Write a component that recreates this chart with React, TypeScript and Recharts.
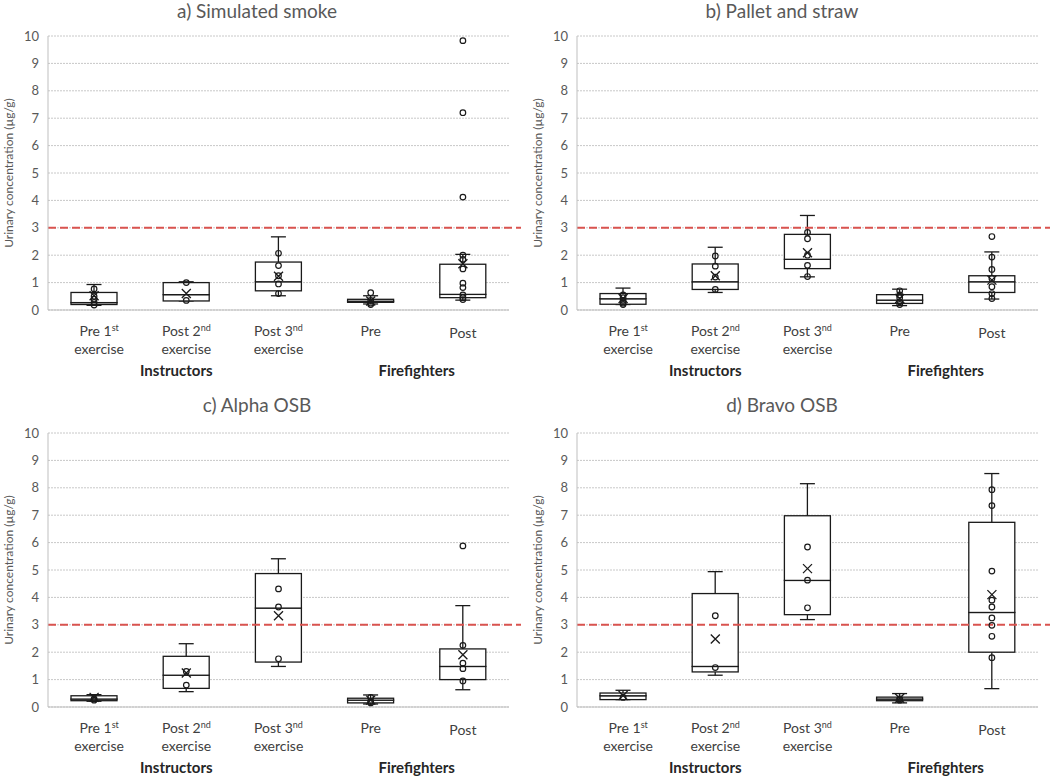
import React from 'react';
import {
  ComposedChart,
  Bar,
  Line,
  XAxis,
  YAxis,
  CartesianGrid,
  ReferenceLine
} from 'recharts';

// categories and tick label parts (the original reads "Post 3nd")
const categories = ['Pre 1st', 'Post 2nd', 'Post 3nd', 'Pre', 'Post'];
const tickMain = ['Pre 1', 'Post 2', 'Post 3', 'Pre', 'Post'];
const tickSup = ['st', 'nd', 'nd', '', ''];
const tickSecond = ['exercise', 'exercise', 'exercise', '', ''];
const groupLabels = ['Instructors', 'Firefighters'];
const yTicks = [0, 1, 2, 3, 4, 5, 6, 7, 8, 9, 10];
const limitValue = 3;

// a) Simulated smoke
const smokeMin = [0.17, 0.33, 0.52, 0.22, 0.36];
const smokeQ1 = [0.2, 0.33, 0.7, 0.28, 0.45];
const smokeMedian = [0.27, 0.56, 1.03, 0.32, 0.57];
const smokeQ3 = [0.64, 1.0, 1.75, 0.39, 1.67];
const smokeMax = [0.93, 1.03, 2.67, 0.52, 2.03];
const smokeMean = [0.52, 0.6, 1.23, 0.33, 1.69];
const smokePoints = [
  [0.77, 0.5, 0.4, 0.28, 0.18],
  [1.0, 0.35],
  [2.07, 1.62, 1.25, 0.95, 0.6],
  [0.63, 0.35, 0.25, 0.2],
  [9.83, 7.2, 4.12, 2.0, 1.85, 1.5, 0.98, 0.82, 0.55, 0.45, 0.38]
];

// b) Pallet and straw
const palletMin = [0.2, 0.64, 1.21, 0.16, 0.4];
const palletQ1 = [0.21, 0.75, 1.51, 0.24, 0.64];
const palletMedian = [0.41, 1.03, 1.85, 0.36, 1.03];
const palletQ3 = [0.6, 1.68, 2.76, 0.56, 1.25];
const palletMax = [0.8, 2.29, 3.45, 0.76, 2.12];
const palletMean = [0.42, 1.25, 2.09, 0.42, 1.09];
const palletPoints = [
  [0.55, 0.45, 0.35, 0.25, 0.2],
  [1.97, 1.6, 1.2, 0.75],
  [2.83, 2.6, 2.0, 1.63, 1.22],
  [0.7, 0.55, 0.45, 0.3, 0.2],
  [2.68, 1.93, 1.48, 1.15, 0.85, 0.6, 0.42]
];

// c) Alpha OSB
const alphaMin = [0.21, 0.56, 1.48, 0.11, 0.63];
const alphaQ1 = [0.23, 0.68, 1.64, 0.15, 1.0];
const alphaMedian = [0.29, 1.16, 3.61, 0.25, 1.48];
const alphaQ3 = [0.41, 1.85, 4.87, 0.32, 2.12];
const alphaMax = [0.45, 2.31, 5.41, 0.44, 3.7];
const alphaMean = [0.35, 1.24, 3.33, 0.25, 1.91];
const alphaPoints = [
  [0.3, 0.25],
  [1.3, 0.8],
  [4.31, 3.65, 1.76],
  [0.35, 0.2, 0.15],
  [5.88, 2.25, 1.6, 1.4, 0.95]
];

// d) Bravo OSB
const bravoMin = [0.27, 1.16, 3.19, 0.15, 0.67];
const bravoQ1 = [0.27, 1.28, 3.37, 0.23, 2.0];
const bravoMedian = [0.41, 1.48, 4.62, 0.29, 3.45];
const bravoQ3 = [0.51, 4.14, 6.98, 0.36, 6.74];
const bravoMax = [0.61, 4.94, 8.15, 0.49, 8.52];
const bravoMean = [0.42, 2.48, 5.05, 0.32, 4.1];
const bravoPoints = [
  [0.35],
  [3.33, 1.44],
  [5.84, 4.63, 3.62],
  [0.3, 0.25],
  [7.93, 7.35, 4.96, 3.9, 3.65, 3.25, 2.98, 2.58, 1.8]
];

const MAX_POINTS = 11;
const pointKeys = Array.from({ length: MAX_POINTS }, (_, j) => `p${j}`);

const ink = '#1a1a1a';
const gridColor = '#c8c8c8';
const axisText = '#595959';
const labelText = '#404040';
const redLine = '#d9534f';

function buildRows(
  min: number[], q1: number[], med: number[], q3: number[], max: number[],
  mean: number[], points: number[][]
) {
  return categories.map((cat, i) => {
    const row: any = {
      cat,
      base: min[i],
      lowWhisker: q1[i] - min[i],
      boxLow: med[i] - q1[i],
      boxHigh: q3[i] - med[i],
      highWhisker: max[i] - q3[i],
      mean: mean[i]
    };
    points[i].forEach((v, j) => { row[`p${j}`] = v; });
    return row;
  });
}

const HiddenShape = () => <g />;

const LowWhiskerShape = (props: any) => {
  const { x, y, width, height } = props;
  const cx = x + width / 2;
  return (
    <g stroke={ink} strokeWidth={1.3}>
      <line x1={cx} x2={cx} y1={y} y2={y + height} />
      <line x1={cx - 7.5} x2={cx + 7.5} y1={y + height} y2={y + height} />
    </g>
  );
};

const HighWhiskerShape = (props: any) => {
  const { x, y, width, height } = props;
  const cx = x + width / 2;
  return (
    <g stroke={ink} strokeWidth={1.3}>
      <line x1={cx} x2={cx} y1={y} y2={y + height} />
      <line x1={cx - 7.5} x2={cx + 7.5} y1={y} y2={y} />
    </g>
  );
};

const BoxShape = (props: any) => {
  const { x, y, width, height } = props;
  return (
    <rect x={x} y={y} width={width} height={Math.max(height, 0)}
      fill="#ffffff" stroke={ink} strokeWidth={1.3} />
  );
};

const PointDot = (props: any) => {
  const { cx, cy, index } = props;
  if (cy == null || cx == null || isNaN(cy)) return <g key={index} />;
  return <circle key={index} cx={cx} cy={cy} r={2.8} fill="none" stroke={ink} strokeWidth={1.2} />;
};

const MeanDot = (props: any) => {
  const { cx, cy, index } = props;
  if (cy == null || cx == null || isNaN(cy)) return <g key={index} />;
  const s = 4.5;
  return (
    <path key={index}
      d={`M${cx - s},${cy - s}L${cx + s},${cy + s}M${cx + s},${cy - s}L${cx - s},${cy + s}`}
      stroke={ink} strokeWidth={1.3} fill="none" />
  );
};

const LimitLine = (props: any) => (
  <line x1={props.x1} y1={props.y1} x2={props.x2 + 12} y2={props.y2}
    stroke={redLine} strokeWidth={2} strokeDasharray="8 4" />
);

const CategoryTick = (props: any) => {
  const { x, y, index } = props;
  const i = props.payload?.index ?? index;
  const shift = i === 0 ? 5 : 0;
  return (
    <g>
      <text x={x + shift} y={y + 18 + (i === 4 ? 2 : 0)} textAnchor="middle" fontSize={14} fill={labelText}>
        {tickMain[i]}
        {tickSup[i] ? <tspan dy={-5} fontSize={9}>{tickSup[i]}</tspan> : null}
      </text>
      {tickSecond[i] ? (
        <text x={x + shift} y={y + 36} textAnchor="middle" fontSize={14} fill={labelText}>
          {tickSecond[i]}
        </text>
      ) : null}
      {i === 1 ? (
        <text x={x - 10} y={y + 58} textAnchor="middle" fontSize={15} fontWeight="bold" fill="#262626">
          {groupLabels[0]}
        </text>
      ) : null}
      {i === 3 ? (
        <text x={x + 46} y={y + 58} textAnchor="middle" fontSize={15} fontWeight="bold" fill="#262626">
          {groupLabels[1]}
        </text>
      ) : null}
    </g>
  );
};

interface PanelProps {
  title: string;
  rows: any[];
  left: number;
  top: number;
  height: number;
  marginTop: number;
  yWidth: number;
}

function BoxPanel({ title, rows, left, top, height, marginTop, yWidth }: PanelProps) {
  const xHeight = height - marginTop - 274;
  const plotMid = marginTop + 137;
  return (
    <div style={{ position: 'absolute', left, top, width: 525, height }}>
      <div style={{
        position: 'absolute', left: 0, width: 514, top: Math.max(0, marginTop - 39), textAlign: 'center',
        fontSize: 19, color: axisText, lineHeight: '22px'
      }}>
        {title}
      </div>
      <div style={{
        position: 'absolute', left: yWidth - 40, top: plotMid,
        transform: 'translate(-50%, -50%) rotate(-90deg)', whiteSpace: 'nowrap',
        fontSize: 12, color: axisText
      }}>
        Urinary concentration (µg/g)
      </div>
      <div style={{ position: 'absolute', left: 0, top: 0 }}>
        <ComposedChart
          width={525}
          height={height}
          data={rows}
          margin={{ top: marginTop, right: 525 - yWidth - 461, bottom: 0, left: 0 }}
        >
          <CartesianGrid vertical={false} stroke={gridColor} strokeDasharray="2 1" />
          <XAxis
            dataKey="cat"
            interval={0}
            height={xHeight}
            tickLine={false}
            axisLine={{ stroke: '#bfbfbf' }}
            tick={<CategoryTick />}
          />
          <YAxis
            width={yWidth}
            domain={[0, 10]}
            ticks={yTicks}
            interval={0}
            tickLine={false}
            tickMargin={3}
            axisLine={{ stroke: '#bfbfbf' }}
            tick={{ fill: axisText, fontSize: 13 }}
          />
          <Bar dataKey="base" stackId="box" barSize={46} shape={HiddenShape} isAnimationActive={false} />
          <Bar dataKey="lowWhisker" stackId="box" barSize={46} shape={LowWhiskerShape} isAnimationActive={false} />
          <Bar dataKey="boxLow" stackId="box" barSize={46} shape={BoxShape} isAnimationActive={false} />
          <Bar dataKey="boxHigh" stackId="box" barSize={46} shape={BoxShape} isAnimationActive={false} />
          <Bar dataKey="highWhisker" stackId="box" barSize={46} shape={HighWhiskerShape} isAnimationActive={false} />
          <ReferenceLine y={limitValue} shape={LimitLine} />
          {pointKeys.map((k) => (
            <Line key={k} dataKey={k} stroke="none" dot={PointDot} activeDot={false}
              legendType="none" isAnimationActive={false} />
          ))}
          <Line dataKey="mean" stroke="none" dot={MeanDot} activeDot={false}
            legendType="none" isAnimationActive={false} />
        </ComposedChart>
      </div>
    </div>
  );
}

export default function App() {
  const smokeRows = buildRows(smokeMin, smokeQ1, smokeMedian, smokeQ3, smokeMax, smokeMean, smokePoints);
  const palletRows = buildRows(palletMin, palletQ1, palletMedian, palletQ3, palletMax, palletMean, palletPoints);
  const alphaRows = buildRows(alphaMin, alphaQ1, alphaMedian, alphaQ3, alphaMax, alphaMean, alphaPoints);
  const bravoRows = buildRows(bravoMin, bravoQ1, bravoMedian, bravoQ3, bravoMax, bravoMean, bravoPoints);

  return (
    <div style={{
      position: 'absolute', left: 0, top: 0, width: 1050, height: 778,
      background: '#ffffff', fontFamily: 'Lato, "Open Sans", sans-serif', overflow: 'hidden'
    }}>
      <BoxPanel title="a) Simulated smoke" rows={smokeRows} left={0} top={0} height={389} marginTop={36} yWidth={48} />
      <BoxPanel title="b) Pallet and straw" rows={palletRows} left={525} top={0} height={389} marginTop={36} yWidth={52} />
      <BoxPanel title="c) Alpha OSB" rows={alphaRows} left={0} top={390} height={388} marginTop={43} yWidth={48} />
      <BoxPanel title="d) Bravo OSB" rows={bravoRows} left={525} top={390} height={388} marginTop={43} yWidth={52} />
    </div>
  );
}
